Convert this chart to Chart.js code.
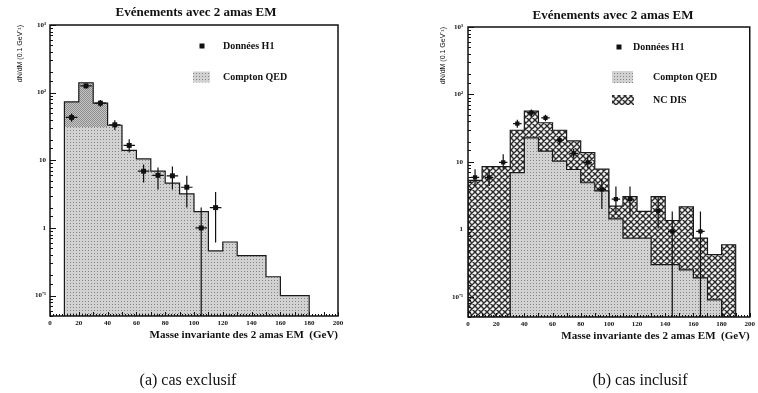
<!DOCTYPE html>
<html>
<head>
<meta charset="utf-8">
<script src="https://cdn.jsdelivr.net/npm/chart.js@4.4.0/dist/chart.umd.min.js"></script>
<style>
    body { margin: 0; background: #fff; width: 758px; height: 393px; position: relative; overflow: hidden; font-family: "Liberation Serif", serif; color: #111; }
    canvas { position: absolute; top: 0; }
    #graphe-exclusif { left: 0; }
    #graphe-inclusif { left: 379px; }
    .titre { position: absolute; font-weight: bold; font-size: 13px; white-space: nowrap; transform: translate(-50%, -50%); }
    .legende { position: absolute; font-size: 16px; white-space: nowrap; transform: translate(-50%, -50%); }
</style>
</head>
<body>
<canvas id="graphe-exclusif" width="379" height="393"></canvas>
<canvas id="graphe-inclusif" width="379" height="393"></canvas>
<div class="titre" style="left:196px; top:12px;">Evénements avec 2 amas EM</div>
<div class="titre" style="left:613px; top:15px;">Evénements avec 2 amas EM</div>
<div class="legende" style="left:188px; top:380px;">(a) cas exclusif</div>
<div class="legende" style="left:640px; top:380px;">(b) cas inclusif</div>
<script>
const FAMILLE = '"Liberation Serif", "Times New Roman", serif';
const PLANCHER = 1e-3;

// Panneau (a) : cas exclusif
const bordsExclusif = [10, 20, 30, 40, 50, 60, 70, 80, 90, 100, 110, 120, 130, 140, 150, 160, 170, 180];
const comptonExclusif = [73, 140, 70, 33, 14, 10.5, 6.9, 4.6, 3.2, 1.75, 0.46, 0.62, 0.39, 0.39, 0.19, 0.1, 0.1];
const seuilSombreExclusif = 31;   // partie plus foncée des trois premiers bins
const nbBinsSombres = 3;
const centresExclusif = [15, 25, 35, 45, 55, 65, 75, 85, 95, 105, 115];
const donneesExclusif = [43, 126, 70, 33.5, 16.6, 6.9, 6, 5.9, 4.0, 1.0, 2.0];
const erreurBasExclusif = [37, 115, 62, 28, 13, 4.7, 3.7, 3.7, 2.0, 0, 0.61];
const erreurHautExclusif = [49, 137, 78, 39, 20.5, 8.7, 7.8, 8.1, 5.9, 2.0, 3.4];

// Panneau (b) : cas inclusif
const bordsInclusif = [0, 10, 20, 30, 40, 50, 60, 70, 80, 90, 100, 110, 120, 130, 140, 150, 160, 170, 180, 190];
const comptonInclusif = [0, 0, 0, 6.9, 22.7, 14.4, 10.2, 7.7, 4.9, 3.7, 1.43, 0.74, 0.74, 0.30, 0.30, 0.25, 0.19, 0.09, 0];
const ncdisInclusif = [5.3, 8.5, 8.5, 22.5, 34, 23.6, 19.2, 12.7, 8.8, 4.1, 0.77, 2.3, 1.1, 2.75, 1.05, 1.9, 0.55, 0.33, 0.59];
const centresInclusif = [5, 15, 25, 35, 45, 55, 65, 75, 85, 95, 105, 115, 135, 145, 165];
const donneesInclusif = [5.9, 5.9, 9.8, 36.8, 53.7, 45, 21, 13.4, 9.8, 3.9, 2.8, 2.8, 1.86, 0.93, 0.93];
const erreurBasInclusif = [4.4, 4.4, 7.8, 32, 48, 40, 18, 11.5, 8, 2.0, 1.64, 1.64, 1.03, 0, 0];
const erreurHautInclusif = [7.8, 7.8, 13, 42, 60, 50, 24, 15.5, 12, 5.5, 4.3, 4.3, 3.05, 1.83, 1.83];

// Axe vertical
const valeursY = [0.1, 1, 10, 100, 1000];
const etiquettesY = ['10⁻¹', '1', '10', '10²', '10³'];

// Motifs de remplissage
function motifPoints(fond, point, taille, positions) {
    const c = document.createElement('canvas');
    c.width = taille; c.height = taille;
    const g = c.getContext('2d');
    g.fillStyle = fond; g.fillRect(0, 0, taille, taille);
    g.fillStyle = point;
    positions.forEach(p => g.fillRect(p[0], p[1], 1, 1));
    return g.createPattern(c, 'repeat');
}

function motifCroise() {
    const s = 6;
    const c = document.createElement('canvas');
    c.width = s; c.height = s;
    const g = c.getContext('2d');
    g.fillStyle = '#f2f2f2'; g.fillRect(0, 0, s, s);
    g.strokeStyle = '#2a2a2a'; g.lineWidth = 1.4;
    g.beginPath();
    for (let k = -1; k <= 1; k++) {
        g.moveTo(k * s, 0); g.lineTo(k * s + s, s);
        g.moveTo(k * s + s, 0); g.lineTo(k * s, s);
    }
    g.stroke();
    return g.createPattern(c, 'repeat');
}

const motifCompton = motifPoints('#d2d2d2', '#858585', 3, [[1, 1]]);
const motifSombre = motifPoints('#c6c6c6', '#8c8c8c', 2, [[0, 0], [1, 1]]);
const motifNcdis = motifCroise();

// Transforme des bins en points pour une ligne en escalier
function histogramme(bords, valeurs, base) {
    const pts = [{ x: bords[0], y: base }];
    valeurs.forEach((v, i) => pts.push({ x: bords[i], y: Math.max(v, base) }));
    const dernier = Math.max(valeurs[valeurs.length - 1], base);
    pts.push({ x: bords[bords.length - 1], y: dernier });
    pts.push({ x: bords[bords.length - 1], y: base });
    return pts;
}

function etiquetteDecade(v) {
    const i = valeursY.findIndex(d => Math.abs(v / d - 1) < 1e-6);
    return i >= 0 ? etiquettesY[i] : '';
}

// Cadre complet et petits traits vers l'intérieur
const cadreEtTraits = {
    id: 'cadreEtTraits',
    afterDatasetsDraw(chart) {
        const { ctx, chartArea: a, scales: { x, y } } = chart;
        ctx.save();
        ctx.strokeStyle = '#111';
        ctx.lineWidth = 1;
        ctx.beginPath();
        y.ticks.forEach(t => {
            const py = Math.round(y.getPixelForValue(t.value)) + 0.5;
            const long = etiquetteDecade(t.value) ? 6 : 3;
            ctx.moveTo(a.left, py); ctx.lineTo(a.left + long, py);
        });
        for (let v = x.min; v <= x.max; v += 2) {
            const px = Math.round(x.getPixelForValue(v)) + 0.5;
            const long = v % 10 === 0 ? 4 : 2;
            ctx.moveTo(px, a.bottom); ctx.lineTo(px, a.bottom - long);
        }
        ctx.stroke();
        ctx.lineWidth = 1.5;
        ctx.strokeRect(a.left, a.top, a.right - a.left, a.bottom - a.top);
        ctx.restore();
    }
};

// Barres d'erreur des données H1
const barresErreur = {
    id: 'barresErreur',
    afterDatasetsDraw(chart) {
        const { ctx, chartArea: a, scales: { x, y } } = chart;
        ctx.save();
        ctx.beginPath();
        ctx.rect(a.left, a.top, a.right - a.left, a.bottom - a.top);
        ctx.clip();
        ctx.strokeStyle = '#111';
        ctx.lineWidth = 1.2;
        chart.data.datasets.forEach(ds => {
            if (!ds.erreurBas) return;
            ds.data.forEach((p, i) => {
                const px = x.getPixelForValue(p.x);
                const py = y.getPixelForValue(p.y);
                ctx.beginPath();
                ctx.moveTo(px, y.getPixelForValue(ds.erreurHaut[i]));
                ctx.lineTo(px, y.getPixelForValue(ds.erreurBas[i]));
                ctx.moveTo(x.getPixelForValue(p.x - ds.demiLargeur), py);
                ctx.lineTo(x.getPixelForValue(p.x + ds.demiLargeur), py);
                ctx.stroke();
            });
        });
        ctx.restore();
    }
};

// Légende dessinée dans la zone du graphique
const legendeInterne = {
    id: 'legendeInterne',
    afterDraw(chart, args, opts) {
        const ctx = chart.ctx;
        ctx.save();
        ctx.font = 'bold 10px ' + FAMILLE;
        ctx.fillStyle = '#111';
        ctx.textBaseline = 'middle';
        (opts.elements || []).forEach(el => {
            if (el.genre === 'point') {
                ctx.fillRect(el.x - 2.5, el.y - 2.5, 5, 5);
            } else {
                ctx.fillStyle = el.motif;
                ctx.fillRect(el.x, el.y - el.h / 2, el.w, el.h);
                ctx.fillStyle = '#111';
            }
            ctx.fillText(el.texte, el.xTexte, el.y);
        });
        ctx.restore();
    }
};

function creerPanneau(idCanvas, reglages) {
    return new Chart(document.getElementById(idCanvas), {
        type: 'line',
        data: { datasets: reglages.datasets },
        options: {
            responsive: false,
            animation: false,
            layout: { padding: reglages.marges },
            elements: { line: { tension: 0 } },
            plugins: {
                legend: { display: false },
                tooltip: { enabled: false },
                filler: { drawTime: 'beforeDatasetsDraw' },
                legendeInterne: { elements: reglages.legende }
            },
            scales: {
                x: {
                    type: 'linear', min: 0, max: 200,
                    afterFit: s => { s.height = 30; },
                    grid: { display: false, drawTicks: false, tickLength: 0 },
                    border: { display: false },
                    ticks: { stepSize: 20, autoSkip: false, maxRotation: 0, padding: 3, color: '#111',
                             font: { family: FAMILLE, size: 7, weight: 'bold' } },
                    title: { display: true, text: 'Masse invariante des 2 amas EM  (GeV)', align: 'end', color: '#111',
                             font: { family: FAMILLE, size: 11, weight: 'bold' }, padding: { top: 0, bottom: 4 } }
                },
                y: {
                    type: 'logarithmic', min: 0.05, max: 1000,
                    afterFit: s => { s.width = 50; },
                    grid: { display: false, drawTicks: false, tickLength: 0 },
                    border: { display: false },
                    ticks: { autoSkip: false, padding: reglages.ecartEtiquettesY, color: '#111',
                             font: { family: FAMILLE, size: 7, weight: 'bold' }, callback: v => etiquetteDecade(v) },
                    title: { display: true, text: 'dN/dM (0.1 GeV⁻¹)', align: 'end', color: '#111',
                             font: { family: '"Liberation Sans", sans-serif', size: 7 },
                             padding: { top: reglages.ecartTitreY, bottom: 0 } }
                }
            }
        },
        plugins: [cadreEtTraits, barresErreur, legendeInterne]
    });
}

function jeuPoints(centres, donnees, bas, haut, demi, rayon) {
    return {
        data: centres.map((c, i) => ({ x: c, y: donnees[i] })),
        showLine: false, pointStyle: 'rect', pointRadius: rayon,
        pointBackgroundColor: '#111', pointBorderColor: '#111', pointBorderWidth: 0,
        erreurBas: bas, erreurHaut: haut, demiLargeur: demi, order: 0
    };
}

// (a) cas exclusif
creerPanneau('graphe-exclusif', {
    marges: { left: 0, right: 41, top: 25, bottom: 47 },
    ecartEtiquettesY: 4,
    ecartTitreY: 16,
    datasets: [
        jeuPoints(centresExclusif, donneesExclusif, erreurBasExclusif, erreurHautExclusif, 4, 3.5),
        {
            data: histogramme(bordsExclusif.slice(0, nbBinsSombres + 1), comptonExclusif.slice(0, nbBinsSombres), seuilSombreExclusif),
            stepped: 'before', borderWidth: 0, pointRadius: 0,
            backgroundColor: motifSombre, fill: { value: seuilSombreExclusif }, order: 1
        },
        {
            data: histogramme(bordsExclusif, comptonExclusif, PLANCHER),
            stepped: 'before', borderColor: '#1a1a1a', borderWidth: 1.2, pointRadius: 0,
            backgroundColor: motifCompton, fill: 'start', order: 2
        }
    ],
    legende: [
        { genre: 'point', x: 202, y: 46, xTexte: 223, texte: 'Données H1' },
        { genre: 'motif', motif: motifCompton, x: 193, y: 77, w: 17, h: 11, xTexte: 223, texte: 'Compton QED' }
    ]
});

// (b) cas inclusif : NC DIS empilé sur Compton QED
const totalInclusif = comptonInclusif.map((v, i) => v + ncdisInclusif[i]);
creerPanneau('graphe-inclusif', {
    marges: { left: 39, right: 5, top: 27, bottom: 46 },
    ecartEtiquettesY: 5,
    ecartTitreY: 21,
    datasets: [
        jeuPoints(centresInclusif, donneesInclusif, erreurBasInclusif, erreurHautInclusif, 3, 3),
        {
            data: histogramme(bordsInclusif, comptonInclusif, PLANCHER),
            stepped: 'before', borderColor: '#1a1a1a', borderWidth: 1.2, pointRadius: 0,
            backgroundColor: motifCompton, fill: 'start', order: 2
        },
        {
            data: histogramme(bordsInclusif, totalInclusif, PLANCHER),
            stepped: 'before', borderColor: '#1a1a1a', borderWidth: 1.2, pointRadius: 0,
            backgroundColor: motifNcdis, fill: '-1', order: 1
        }
    ],
    legende: [
        { genre: 'point', x: 240, y: 47, xTexte: 254, texte: 'Données H1' },
        { genre: 'motif', motif: motifCompton, x: 233, y: 77, w: 21, h: 12, xTexte: 274, texte: 'Compton QED' },
        { genre: 'motif', motif: motifNcdis, x: 233, y: 100, w: 22, h: 10, xTexte: 274, texte: 'NC DIS' }
    ]
});
</script>
</body>
</html>
